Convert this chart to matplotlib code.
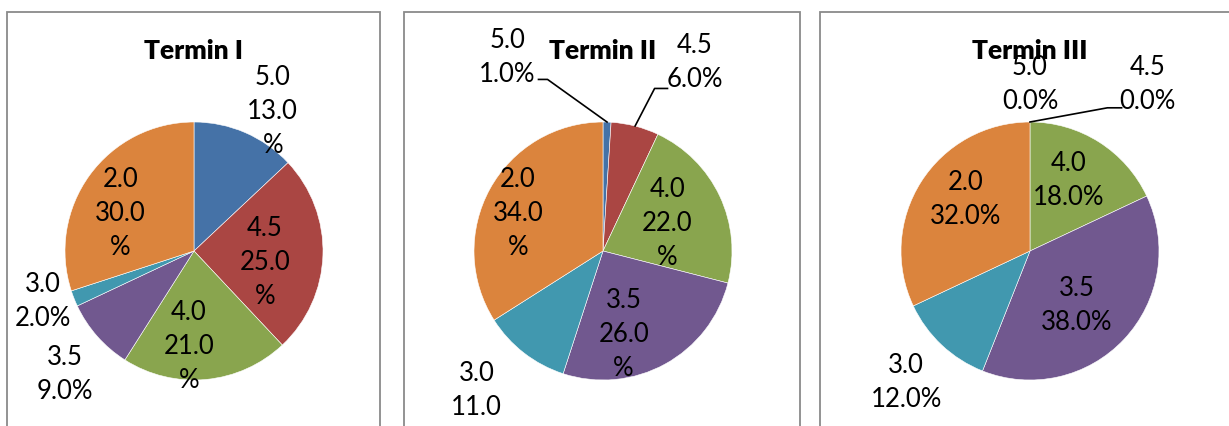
import numpy as np
import matplotlib.pyplot as plt
from matplotlib.patches import Rectangle

plt.rcParams['font.family'] = ['Lato', 'DejaVu Sans']

grades = ['5.0', '4.5', '4.0', '3.5', '3.0', '2.0']
colors = ['#4572A7', '#AA4643', '#89A54E', '#71588F', '#4198AF', '#DB843D']

titles = ['Termin I', 'Termin II', 'Termin III']
term1 = [13.0, 25.0, 21.0, 9.0, 2.0, 30.0]
term2 = [1.0, 6.0, 22.0, 26.0, 11.0, 34.0]
term3 = [0.0, 0.0, 18.0, 38.0, 12.0, 32.0]

# Excel wrapped some labels, "%" falls on its own line
wrap1 = [True, True, True, False, False, True]
wrap2 = [False, False, True, True, True, True]
wrap3 = [False, False, False, False, False, False]

# label positions relative to pie centre, in units of radius
lpos1 = [(0.61, 1.08), (0.55, -0.09), (-0.04, -0.74), (-1.0, -0.96), (-1.17, -0.39), (-0.57, 0.29)]
lpos2 = [(-0.74, 1.50), (0.71, 1.46), (0.50, 0.21), (0.16, -0.65), (-0.98, -1.21), (-0.66, 0.29)]
lpos3 = [(0.0, 1.29), (0.91, 1.29), (0.30, 0.55), (0.36, -0.42), (-0.96, -1.02), (-0.50, 0.40)]
# leader lines: (slice index, elbow, end) relative to centre
leaders2 = [(0, (-0.43, 1.33), (-0.50, 1.33)), (1, (0.40, 1.26), (0.50, 1.26))]
leaders3 = [(1, (0.60, 1.11), (0.71, 1.11))]

W, H = 1229, 426
fig = plt.figure(figsize=(W / 100, H / 100), dpi=100)
ax = fig.add_axes([0, 0, 1, 1])
ax.set_xlim(0, W)
ax.set_ylim(0, H)
ax.set_aspect('equal')
ax.axis('off')

panels = [
    (term1, wrap1, lpos1, [], 194, (7, 380)),
    (term2, wrap2, lpos2, leaders2, 603, (404, 800)),
    (term3, wrap3, lpos3, leaders3, 1030, (820, 1240)),
]
R = 129
cy = H - 251

for i, (vals, wrap, lpos, leaders, cx, (x0, x1)) in enumerate(panels):
    ax.add_patch(Rectangle((x0, -20), x1 - x0, H - 12 + 20, fill=False,
                           edgecolor='#8a8a8a', linewidth=1.3))
    ax.pie(vals, colors=colors, center=(cx, cy), radius=R, startangle=90,
           counterclock=False, wedgeprops=dict(edgecolor='white', linewidth=0.4))
    ax.text(cx, H - 51, titles[i], ha='center', va='center',
            fontsize=19, fontweight='heavy')
    for g, v, w, (dx, dy) in zip(grades, vals, wrap, lpos):
        lab = f'{g}\n{v:.1f}\n%' if w else f'{g}\n{v:.1f}%'
        ax.text(cx + dx * R, cy + dy * R, lab, ha='center', va='center',
                fontsize=18.5, linespacing=1.45)
    # leader lines to small slices
    cum = np.cumsum([0] + vals)
    for k, (ex, ey), (tx, ty) in leaders:
        mid = np.deg2rad(90 - (cum[k] + vals[k] / 2) / cum[-1] * 360)
        px, py = cx + R * np.cos(mid), cy + R * np.sin(mid)
        ax.plot([cx + tx * R, cx + ex * R, px], [cy + ty * R, cy + ey * R, py],
                color='black', linewidth=1.2)

ax.set_xlim(0, W)
ax.set_ylim(0, H)
fig.savefig('out.png', dpi=100)
